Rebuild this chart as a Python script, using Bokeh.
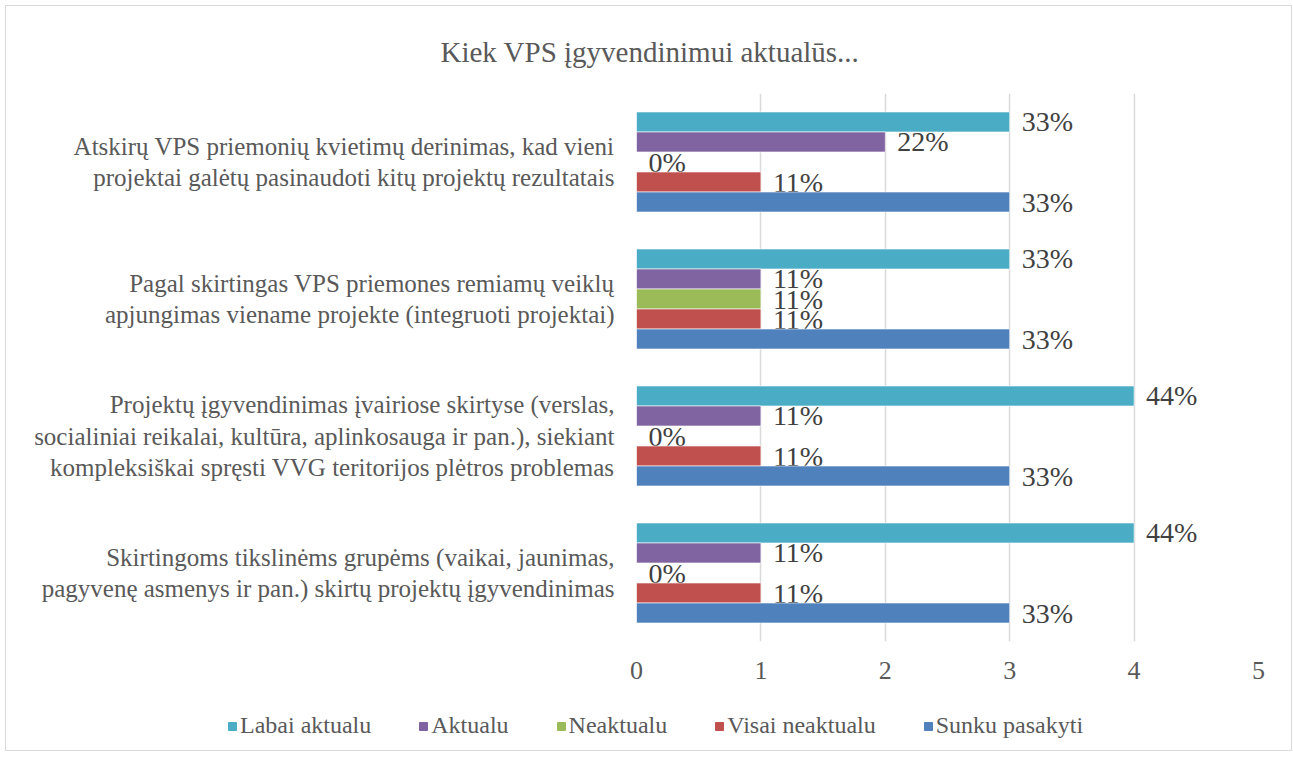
from bokeh.plotting import figure
from bokeh.layouts import column
from bokeh.models import FactorRange, Range1d, FixedTicker, Legend, LegendItem, ColumnDataSource
from bokeh.transform import dodge
from bokeh.core.properties import value
from bokeh.embed import file_html
from bokeh.resources import INLINE

# ---- data ----
categories = [
    "Skirtingoms tikslinėms grupėms (vaikai, jaunimas,\npagyvenę asmenys ir pan.) skirtų projektų įgyvendinimas",
    "Projektų įgyvendinimas įvairiose skirtyse (verslas,\nsocialiniai reikalai, kultūra, aplinkosauga ir pan.), siekiant\nkompleksiškai spręsti VVG teritorijos plėtros problemas",
    "Pagal skirtingas VPS priemones remiamų veiklų\napjungimas viename projekte (integruoti projektai)",
    "Atskirų VPS priemonių kvietimų derinimas, kad vieni\nprojektai galėtų pasinaudoti kitų projektų rezultatais",
]
series_names = ["Labai aktualu", "Aktualu", "Neaktualu", "Visai neaktualu", "Sunku pasakyti"]
labai_aktualu = [4, 4, 3, 3]
aktualu = [1, 1, 1, 2]
neaktualu = [0, 0, 1, 0]
visai_neaktualu = [1, 1, 1, 1]
sunku_pasakyti = [3, 3, 3, 3]
labai_aktualu_lbl = ["44%", "44%", "33%", "33%"]
aktualu_lbl = ["11%", "11%", "11%", "22%"]
neaktualu_lbl = ["0%", "0%", "11%", "0%"]
visai_neaktualu_lbl = ["11%", "11%", "11%", "11%"]
sunku_pasakyti_lbl = ["33%", "33%", "33%", "33%"]
x_ticks = [0, 1, 2, 3, 4, 5]
title_text = "Kiek VPS įgyvendinimui aktualūs..."

series_values = [labai_aktualu, aktualu, neaktualu, visai_neaktualu, sunku_pasakyti]
series_labels = [labai_aktualu_lbl, aktualu_lbl, neaktualu_lbl, visai_neaktualu_lbl, sunku_pasakyti_lbl]
colors = ["#4BACC6", "#8064A2", "#9BBB59", "#C0504D", "#4F81BD"]

FONT = "Liberation Serif"
TXT = "#595959"

bar_h = 0.146
offsets = [2 * bar_h, bar_h, 0.0, -bar_h, -2 * bar_h]

p = figure(
    y_range=FactorRange(*categories, range_padding=0),
    x_range=Range1d(0, 5),
    frame_width=622, frame_height=548,
    min_border_left=630, min_border_right=33, min_border_top=87, min_border_bottom=59,
    output_backend="svg", toolbar_location=None,
)
p.frame_align = False
p.outline_line_color = None
p.background_fill_color = "white"
p.border_fill_color = "white"

for name, vals, lbls, col, off in zip(series_names, series_values, series_labels, colors, offsets):
    src = ColumnDataSource(dict(cat=categories, val=vals, lbl=lbls))
    p.hbar(y=dodge("cat", off, range=p.y_range), right="val", left=0, height=bar_h,
           source=src, fill_color=col, line_color="white", line_width=0.6)
    p.text(x="val", y=dodge("cat", off, range=p.y_range), text="lbl", source=src,
           x_offset=12, text_align="left", text_baseline="middle",
           text_font=value(FONT), text_font_size="28px", text_color="#404040")

# title
p.title.text = title_text
p.title.align = "left"
p.title.vertical_align = "top"
p.title.offset = -196
p.title.standoff = 48
p.title.text_font = FONT
p.title.text_font_size = "29px"
p.title.text_font_style = "normal"
p.title.text_color = TXT

# x axis
p.xaxis.ticker = FixedTicker(ticks=x_ticks)
p.xaxis.axis_line_color = None
p.xaxis.major_tick_line_color = None
p.xaxis.minor_tick_line_color = None
p.xaxis.major_label_standoff = 14
p.xaxis.major_label_text_font = FONT
p.xaxis.major_label_text_font_size = "26px"
p.xaxis.major_label_text_color = TXT

# y axis
p.yaxis.axis_line_color = None
p.yaxis.major_tick_line_color = None
p.yaxis.minor_tick_line_color = None
p.yaxis.major_tick_out = 0
p.yaxis.major_label_standoff = 22
p.yaxis.major_label_text_font = FONT
p.yaxis.major_label_text_font_size = "25px"
p.yaxis.major_label_text_line_height = 1.15
p.yaxis.major_label_text_color = TXT

p.xgrid.grid_line_color = "#D9D9D9"
p.xgrid.grid_line_width = 1.5
p.ygrid.grid_line_color = None

# legend strip below the chart (swatch renderers sit outside its visible range)
pl = figure(width=1285, height=50, min_border=0, x_axis_location=None, y_axis_location=None,
            x_range=Range1d(0, 1), y_range=Range1d(0, 1),
            output_backend="svg", toolbar_location=None)
pl.frame_align = False
pl.outline_line_color = None
pl.grid.grid_line_color = None
items = []
for name, col in zip(series_names, colors):
    r = pl.quad(left=[-3], right=[-2], top=[-2], bottom=[-3], fill_color=col, line_color=col)
    items.append(LegendItem(label=name, renderers=[r]))
legend = Legend(items=items, orientation="horizontal", location=(221, 11),
                glyph_width=10, glyph_height=10, label_standoff=3, spacing=47,
                padding=0, margin=0, border_line_color=None, background_fill_alpha=0,
                label_text_font=FONT, label_text_font_size="24px", label_text_color=TXT)
pl.add_layout(legend, "center")

layout = column(p, pl, spacing=0,
                styles={"border": "1px solid #D9D9D9", "margin-left": "5px", "margin-top": "5px"})

open("out.html", "w").write(file_html(layout, INLINE))
